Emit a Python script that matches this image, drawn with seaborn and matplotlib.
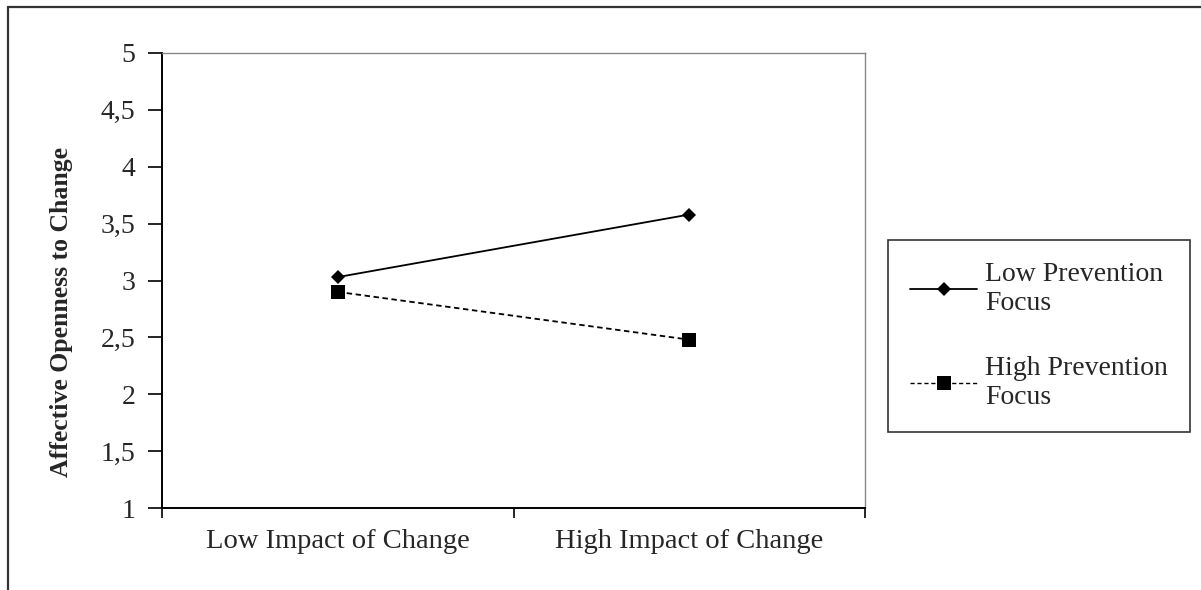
import numpy as np
import matplotlib.pyplot as plt
import matplotlib.lines as mlines
import seaborn as sns
import pandas as pd

sns.set_theme(style='white')
plt.rcParams['font.family'] = ['Liberation Serif', 'DejaVu Serif']

impact = ["Low Impact of Change", "High Impact of Change"]
groups = ["Low Prevention\nFocus", "High Prevention\nFocus"]
low_prev = [3.03, 3.58]
high_prev = [2.90, 2.48]
yticks = [1, 1.5, 2, 2.5, 3, 3.5, 4, 4.5, 5]
ytick_labels = ["1", "1,5", "2", "2,5", "3", "3,5", "4", "4,5", "5"]

df = pd.DataFrame({
    "impact": impact * 2,
    "openness": low_prev + high_prev,
    "group": [groups[0]] * 2 + [groups[1]] * 2,
})

fig = plt.figure(figsize=(12.01, 5.90), dpi=100)
ax = fig.add_axes([162/1201, 1-508/590, (865-162)/1201, (508-53)/590])

sns.lineplot(data=df, x="impact", y="openness", hue="group", style="group",
             palette=["black", "black"],
             markers={groups[0]: "D", groups[1]: "s"},
             dashes={groups[0]: "", groups[1]: (3, 2)},
             markersize=8, linewidth=1.3, ax=ax, legend=False)
for ln, ms in zip(ax.get_lines(), [7.5, 10]):
    ln.set_markersize(ms)
    ln.set_markeredgewidth(0)

ax.set_xlim(-0.5, 1.5)
ax.set_ylim(1, 5)
ax.set_yticks(yticks)
ax.set_yticklabels(ytick_labels, fontsize=20)
ax.set_xticks([0, 1])
ax.set_xticklabels(impact, fontsize=20.5)
ax.set_xticks([-0.5, 0.5, 1.5], minor=True)
ax.tick_params(axis='x', which='major', length=0, pad=15)
ax.tick_params(axis='x', which='minor', length=7, width=1.2, color='black', direction='out', bottom=True)
ax.tick_params(axis='y', which='major', length=10, width=1.2, color='black', direction='out', left=True, pad=9)
ax.set_xlabel("")
ax.set_ylabel("Affective Openness to Change", fontsize=18.5, fontweight='bold')
ax.yaxis.set_label_coords(-0.127, 0.43)

for s in ['left', 'bottom']:
    ax.spines[s].set_color('black')
    ax.spines[s].set_linewidth(1.4)
for s in ['top', 'right']:
    ax.spines[s].set_color('#888888')
    ax.spines[s].set_linewidth(1.0)

handles = [
    mlines.Line2D([], [], color='black', linewidth=1.3, marker='D', markersize=7.5, markeredgewidth=0),
    mlines.Line2D([], [], color='black', linewidth=1.0, linestyle=(0, (3, 2)), marker='s', markersize=10, markeredgewidth=0),
]
leg = fig.legend(handles, groups, loc='upper left', bbox_to_anchor=(888/1201, 1-240/590),
                 fontsize=20, frameon=True, fancybox=False, handlelength=2.4,
                 labelspacing=1.45, borderpad=0.8, handletextpad=0.3, borderaxespad=0)
leg.get_frame().set_edgecolor('black')
leg.get_frame().set_linewidth(1.2)

# outer chart frame (left and top edges visible)
fig.add_artist(mlines.Line2D([8/1201, 8/1201], [0, 1-7/590], color='#333333', linewidth=1.6))
fig.add_artist(mlines.Line2D([8/1201, 1], [1-7/590, 1-7/590], color='#333333', linewidth=1.6))

fig.savefig("out.png", dpi=100)
